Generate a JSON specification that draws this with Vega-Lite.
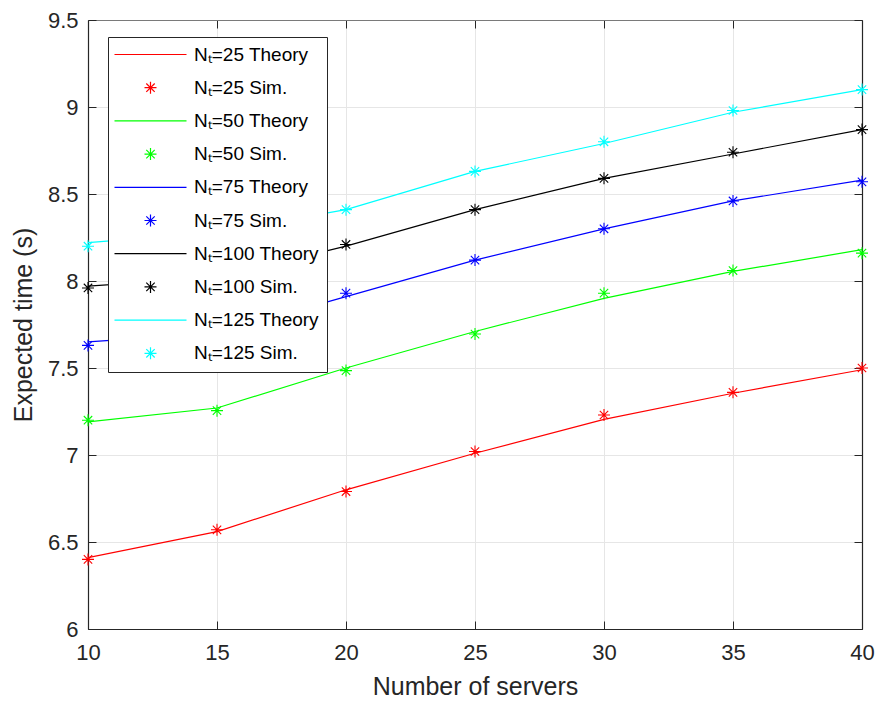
{
  "$schema": "https://vega.github.io/schema/vega-lite/v6.json",
  "width": 774,
  "height": 609,
  "autosize": {"type": "none"},
  "padding": {"left": 88, "top": 20, "right": 15, "bottom": 73},
  "background": "white",
  "config": {
    "font": "Liberation Sans",
    "view": {"stroke": null},
    "axis": {
      "domainColor": "#262626",
      "tickColor": "#262626",
      "labelColor": "#262626",
      "titleColor": "#262626",
      "labelFont": "Liberation Sans",
      "titleFont": "Liberation Sans",
      "labelFontSize": 22,
      "titleFontSize": 25,
      "titleFontWeight": "normal",
      "labelFlush": false,
      "gridColor": "#e6e6e6",
      "gridWidth": 1,
      "tickSize": -8
    }
  },
  "data": {
    "values": [
      {"x": 10, "y": 6.41, "label": "Nₜ=25 Theory", "kind": "Theory"},
      {"x": 15, "y": 6.56, "label": "Nₜ=25 Theory", "kind": "Theory"},
      {"x": 20, "y": 6.80, "label": "Nₜ=25 Theory", "kind": "Theory"},
      {"x": 25, "y": 7.01, "label": "Nₜ=25 Theory", "kind": "Theory"},
      {"x": 30, "y": 7.205, "label": "Nₜ=25 Theory", "kind": "Theory"},
      {"x": 35, "y": 7.355, "label": "Nₜ=25 Theory", "kind": "Theory"},
      {"x": 40, "y": 7.49, "label": "Nₜ=25 Theory", "kind": "Theory"},
      {"x": 10, "y": 6.40, "label": "Nₜ=25 Sim.", "kind": "Sim"},
      {"x": 15, "y": 6.57, "label": "Nₜ=25 Sim.", "kind": "Sim"},
      {"x": 20, "y": 6.79, "label": "Nₜ=25 Sim.", "kind": "Sim"},
      {"x": 25, "y": 7.02, "label": "Nₜ=25 Sim.", "kind": "Sim"},
      {"x": 30, "y": 7.23, "label": "Nₜ=25 Sim.", "kind": "Sim"},
      {"x": 35, "y": 7.36, "label": "Nₜ=25 Sim.", "kind": "Sim"},
      {"x": 40, "y": 7.50, "label": "Nₜ=25 Sim.", "kind": "Sim"},
      {"x": 10, "y": 7.19, "label": "Nₜ=50 Theory", "kind": "Theory"},
      {"x": 15, "y": 7.27, "label": "Nₜ=50 Theory", "kind": "Theory"},
      {"x": 20, "y": 7.50, "label": "Nₜ=50 Theory", "kind": "Theory"},
      {"x": 25, "y": 7.71, "label": "Nₜ=50 Theory", "kind": "Theory"},
      {"x": 30, "y": 7.90, "label": "Nₜ=50 Theory", "kind": "Theory"},
      {"x": 35, "y": 8.055, "label": "Nₜ=50 Theory", "kind": "Theory"},
      {"x": 40, "y": 8.18, "label": "Nₜ=50 Theory", "kind": "Theory"},
      {"x": 10, "y": 7.20, "label": "Nₜ=50 Sim.", "kind": "Sim"},
      {"x": 15, "y": 7.255, "label": "Nₜ=50 Sim.", "kind": "Sim"},
      {"x": 20, "y": 7.485, "label": "Nₜ=50 Sim.", "kind": "Sim"},
      {"x": 25, "y": 7.695, "label": "Nₜ=50 Sim.", "kind": "Sim"},
      {"x": 30, "y": 7.93, "label": "Nₜ=50 Sim.", "kind": "Sim"},
      {"x": 35, "y": 8.06, "label": "Nₜ=50 Sim.", "kind": "Sim"},
      {"x": 40, "y": 8.16, "label": "Nₜ=50 Sim.", "kind": "Sim"},
      {"x": 10, "y": 7.65, "label": "Nₜ=75 Theory", "kind": "Theory"},
      {"x": 15, "y": 7.70, "label": "Nₜ=75 Theory", "kind": "Theory"},
      {"x": 20, "y": 7.91, "label": "Nₜ=75 Theory", "kind": "Theory"},
      {"x": 25, "y": 8.12, "label": "Nₜ=75 Theory", "kind": "Theory"},
      {"x": 30, "y": 8.30, "label": "Nₜ=75 Theory", "kind": "Theory"},
      {"x": 35, "y": 8.46, "label": "Nₜ=75 Theory", "kind": "Theory"},
      {"x": 40, "y": 8.58, "label": "Nₜ=75 Theory", "kind": "Theory"},
      {"x": 10, "y": 7.63, "label": "Nₜ=75 Sim.", "kind": "Sim"},
      {"x": 15, "y": 7.70, "label": "Nₜ=75 Sim.", "kind": "Sim"},
      {"x": 20, "y": 7.93, "label": "Nₜ=75 Sim.", "kind": "Sim"},
      {"x": 25, "y": 8.12, "label": "Nₜ=75 Sim.", "kind": "Sim"},
      {"x": 30, "y": 8.30, "label": "Nₜ=75 Sim.", "kind": "Sim"},
      {"x": 35, "y": 8.46, "label": "Nₜ=75 Sim.", "kind": "Sim"},
      {"x": 40, "y": 8.57, "label": "Nₜ=75 Sim.", "kind": "Sim"},
      {"x": 10, "y": 7.97, "label": "Nₜ=100 Theory", "kind": "Theory"},
      {"x": 15, "y": 8.02, "label": "Nₜ=100 Theory", "kind": "Theory"},
      {"x": 20, "y": 8.20, "label": "Nₜ=100 Theory", "kind": "Theory"},
      {"x": 25, "y": 8.41, "label": "Nₜ=100 Theory", "kind": "Theory"},
      {"x": 30, "y": 8.59, "label": "Nₜ=100 Theory", "kind": "Theory"},
      {"x": 35, "y": 8.73, "label": "Nₜ=100 Theory", "kind": "Theory"},
      {"x": 40, "y": 8.87, "label": "Nₜ=100 Theory", "kind": "Theory"},
      {"x": 10, "y": 7.96, "label": "Nₜ=100 Sim.", "kind": "Sim"},
      {"x": 15, "y": 8.02, "label": "Nₜ=100 Sim.", "kind": "Sim"},
      {"x": 20, "y": 8.21, "label": "Nₜ=100 Sim.", "kind": "Sim"},
      {"x": 25, "y": 8.41, "label": "Nₜ=100 Sim.", "kind": "Sim"},
      {"x": 30, "y": 8.59, "label": "Nₜ=100 Sim.", "kind": "Sim"},
      {"x": 35, "y": 8.74, "label": "Nₜ=100 Sim.", "kind": "Sim"},
      {"x": 40, "y": 8.87, "label": "Nₜ=100 Sim.", "kind": "Sim"},
      {"x": 10, "y": 8.22, "label": "Nₜ=125 Theory", "kind": "Theory"},
      {"x": 15, "y": 8.28, "label": "Nₜ=125 Theory", "kind": "Theory"},
      {"x": 20, "y": 8.41, "label": "Nₜ=125 Theory", "kind": "Theory"},
      {"x": 25, "y": 8.63, "label": "Nₜ=125 Theory", "kind": "Theory"},
      {"x": 30, "y": 8.79, "label": "Nₜ=125 Theory", "kind": "Theory"},
      {"x": 35, "y": 8.97, "label": "Nₜ=125 Theory", "kind": "Theory"},
      {"x": 40, "y": 9.10, "label": "Nₜ=125 Theory", "kind": "Theory"},
      {"x": 10, "y": 8.20, "label": "Nₜ=125 Sim.", "kind": "Sim"},
      {"x": 15, "y": 8.28, "label": "Nₜ=125 Sim.", "kind": "Sim"},
      {"x": 20, "y": 8.41, "label": "Nₜ=125 Sim.", "kind": "Sim"},
      {"x": 25, "y": 8.63, "label": "Nₜ=125 Sim.", "kind": "Sim"},
      {"x": 30, "y": 8.80, "label": "Nₜ=125 Sim.", "kind": "Sim"},
      {"x": 35, "y": 8.98, "label": "Nₜ=125 Sim.", "kind": "Sim"},
      {"x": 40, "y": 9.10, "label": "Nₜ=125 Sim.", "kind": "Sim"}
    ]
  },
  "layer": [
    {
      "transform": [{"filter": "datum.kind === 'Theory'"}],
      "mark": {"type": "line", "strokeWidth": 1.2, "clip": true},
      "encoding": {
        "x": {
          "field": "x", "type": "quantitative",
          "scale": {"domain": [10, 40], "nice": false},
          "axis": {"title": "Number of servers", "values": [10, 15, 20, 25, 30, 35, 40], "grid": true, "labelPadding": 21, "titlePadding": 11, "domainWidth": 1.2}
        },
        "y": {
          "field": "y", "type": "quantitative",
          "scale": {"domain": [6, 9.5], "nice": false, "zero": false},
          "axis": {"title": "Expected time (s)", "values": [6, 6.5, 7, 7.5, 8, 8.5, 9, 9.5], "format": ".1~f", "grid": true, "labelPadding": 18, "titlePadding": 11, "domainWidth": 1.2}
        },
        "stroke": {
          "field": "label", "type": "nominal",
          "scale": {
            "domain": ["Nₜ=25 Theory", "Nₜ=50 Theory", "Nₜ=75 Theory", "Nₜ=100 Theory", "Nₜ=125 Theory"],
            "range": ["#ff0000", "#00ff00", "#0000ff", "#000000", "#00ffff"]
          },
          "legend": null
        }
      }
    },
    {
      "transform": [{"filter": "datum.kind === 'Sim'"}],
      "mark": {"type": "point", "filled": false, "size": 144, "strokeWidth": 1.1, "opacity": 1},
      "encoding": {
        "x": {"field": "x", "type": "quantitative", "axis": null},
        "y": {"field": "y", "type": "quantitative", "axis": null},
        "color": {
          "field": "label", "type": "nominal",
          "scale": {
            "domain": ["Nₜ=25 Theory", "Nₜ=25 Sim.", "Nₜ=50 Theory", "Nₜ=50 Sim.", "Nₜ=75 Theory", "Nₜ=75 Sim.", "Nₜ=100 Theory", "Nₜ=100 Sim.", "Nₜ=125 Theory", "Nₜ=125 Sim."],
            "range": ["#ff0000", "#ff0000", "#00ff00", "#00ff00", "#0000ff", "#0000ff", "#000000", "#000000", "#00ffff", "#00ffff"]
          },
          "legend": {
            "title": null,
            "orient": "none",
            "legendX": 20,
            "legendY": 17,
            "fillColor": "white",
            "strokeColor": "#262626",
            "padding": 8,
            "labelFont": "Liberation Sans",
            "labelFontSize": 19,
            "labelColor": "#000000",
            "labelLimit": 300,
            "symbolSize": 144,
            "symbolStrokeWidth": 1.2,
            "symbolOffset": 25,
            "labelOffset": 34,
            "rowPadding": 13.2
          }
        },
        "shape": {
          "field": "label", "type": "nominal",
          "scale": {
            "domain": ["Nₜ=25 Theory", "Nₜ=25 Sim.", "Nₜ=50 Theory", "Nₜ=50 Sim.", "Nₜ=75 Theory", "Nₜ=75 Sim.", "Nₜ=100 Theory", "Nₜ=100 Sim.", "Nₜ=125 Theory", "Nₜ=125 Sim."],
            "range": [
              "M-6,0L6,0", "M-1,0L1,0M0,-1L0,1M-0.7,-0.7L0.7,0.7M-0.7,0.7L0.7,-0.7",
              "M-6,0L6,0", "M-1,0L1,0M0,-1L0,1M-0.7,-0.7L0.7,0.7M-0.7,0.7L0.7,-0.7",
              "M-6,0L6,0", "M-1,0L1,0M0,-1L0,1M-0.7,-0.7L0.7,0.7M-0.7,0.7L0.7,-0.7",
              "M-6,0L6,0", "M-1,0L1,0M0,-1L0,1M-0.7,-0.7L0.7,0.7M-0.7,0.7L0.7,-0.7",
              "M-6,0L6,0", "M-1,0L1,0M0,-1L0,1M-0.7,-0.7L0.7,0.7M-0.7,0.7L0.7,-0.7"
            ]
          },
          "legend": {
            "title": null,
            "orient": "none",
            "legendX": 20,
            "legendY": 17,
            "fillColor": "white",
            "strokeColor": "#262626",
            "padding": 8,
            "labelFont": "Liberation Sans",
            "labelFontSize": 19,
            "labelColor": "#000000",
            "labelLimit": 300,
            "symbolSize": 144,
            "symbolStrokeWidth": 1.2,
            "symbolOffset": 25,
            "labelOffset": 34,
            "rowPadding": 13.2
          }
        }
      }
    },
    {
      "mark": {"type": "point", "opacity": 0},
      "encoding": {
        "x": {"field": "x", "type": "quantitative", "axis": {"orient": "top", "title": null, "labels": false, "grid": false, "values": [10, 15, 20, 25, 30, 35, 40], "domainColor": "#7a7a7a", "domainWidth": 1.2}},
        "y": {"field": "y", "type": "quantitative", "axis": {"orient": "right", "title": null, "labels": false, "grid": false, "values": [6, 6.5, 7, 7.5, 8, 8.5, 9, 9.5], "domainWidth": 1.2}}
      }
    }
  ],
  "resolve": {
    "axis": {"x": "independent", "y": "independent"}
  }
}
